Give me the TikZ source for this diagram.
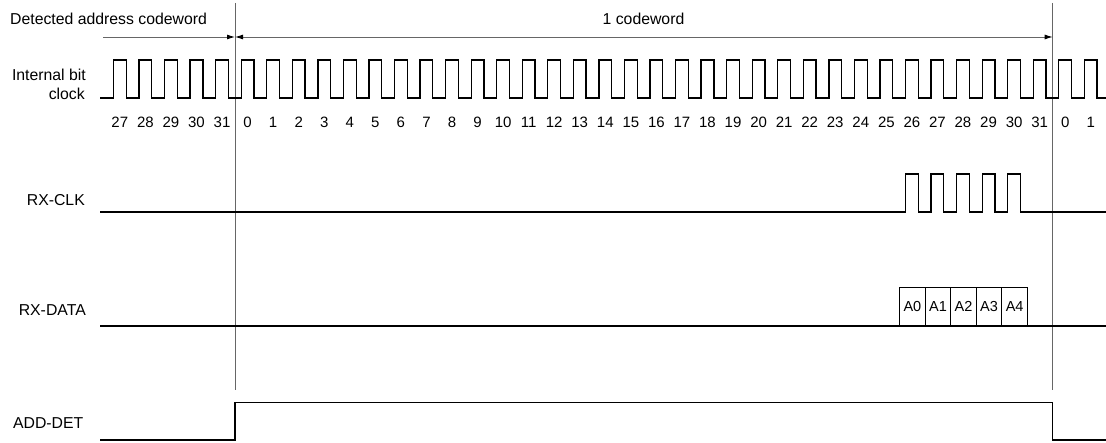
\documentclass[tikz,border=0pt]{standalone}
\usepackage{fontspec}
\setmainfont{Liberation Sans}
\usepackage{tikz}
\usetikzlibrary{arrows.meta, positioning, calc}

\begin{document}
\begin{tikzpicture}[x=1pt, y=-1pt,
    lbl/.style={inner sep=0pt, font=\fontsize{15.8}{19}\selectfont},
    num/.style={inner sep=0pt, font=\fontsize{15}{17}\selectfont},
    sig/.style={line width=1.3pt, line join=miter},
    marker/.style={black!60, line width=0.9pt},
    arrow/.style={black!60, line width=0.9pt, -{Latex[length=8pt,width=5pt,black]}},
    databox/.style={rectangle, draw, line width=1.1pt, inner sep=0pt, minimum width=25.55pt, minimum height=38pt, anchor=south west, font=\fontsize{14.5}{16}\selectfont}]

    \useasboundingbox (0,0) rectangle (1106,443);

    % titles and marker lines
    \node (detected) [lbl, anchor=west] at (10,18.7) {Detected address codeword};
    \node (oneword) [lbl] at (643.5,18.7) {1 codeword};
    \coordinate (top0) at (235,3);
    \coordinate (bot0) at (235,390);
    \coordinate (top1) at (1052.7,3);
    \coordinate (bot1) at (1052.7,390);
    \coordinate (dstart) at (103,37);
    \coordinate (m0) at (235,37);
    \coordinate (m1) at (1052.7,37);
    \draw [marker] (top0) -- (bot0);
    \draw [marker] (top1) -- (bot1);
    \draw [arrow] (dstart) -- (m0);
    \draw [arrow, {Latex[length=8pt,width=5pt,black]}-{Latex[length=8pt,width=5pt,black]}] (m0) -- (m1);

    % signal names
    \node (ibit) [lbl, anchor=east] at (86,75) {Internal bit};
    \node (clk) [lbl, anchor=east] at (85,94) {clock};
    \node (rxclk) [lbl, anchor=east] at (85,200) {RX-CLK};
    \node (rxdata) [lbl, anchor=east] at (86,310) {RX-DATA};
    \node (adddet) [lbl, anchor=east] at (83.5,423) {ADD-DET};

    % internal bit clock
    \draw [sig] (100,98) \foreach \k in {-5,...,33} {
        -- ({241.2+\k*25.55},98) -- ++(0,-38) -- ++(12.78,0) -- ++(0,38)} -- (1106,98);
    \foreach \k in {-5,...,33} {
        \pgfmathtruncatemacro{\n}{mod(\k+32,32)}
        \node (bit\k) [num] at ({241.2+\k*25.55+6.39},122.3) {\n};
    }

    % RX-CLK
    \draw [sig] (100,212) \foreach \k in {26,...,30} {
        -- ({241.2+\k*25.55},212) -- ++(0,-38) -- ++(12.78,0) -- ++(0,38)} -- (1106,212);

    % RX-DATA
    \draw [sig] (100,326) -- (1106,326);
    \foreach \i in {0,...,4}
        \node (a\i) [databox] at ({899.1+\i*25.55},326) {A\i};

    % ADD-DET
    \draw [sig] (100,440) -- (235,440) -- (235,402.7) -- (1052.7,402.7) -- (1052.7,440) -- (1106,440);
\end{tikzpicture}
\end{document}
